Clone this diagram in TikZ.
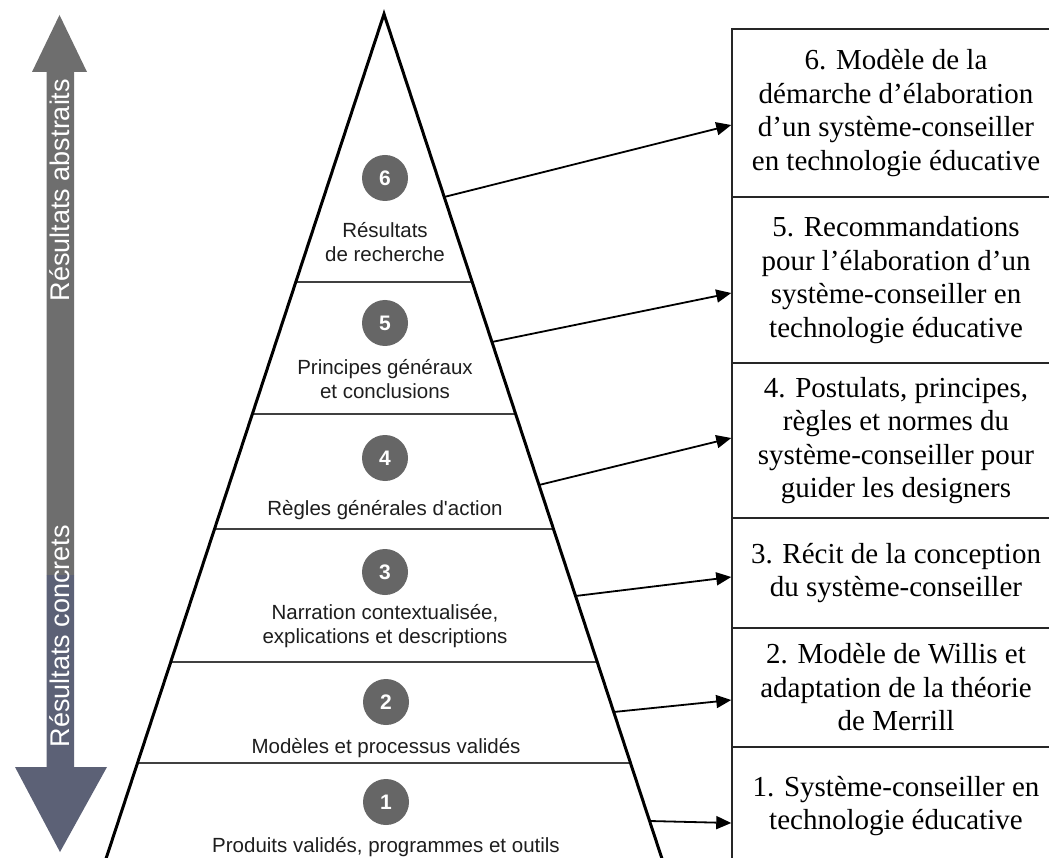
\documentclass[tikz,border=0pt]{standalone}
\usepackage{fontspec}
\setmainfont{Liberation Serif}
\newfontfamily\sansf{Liberation Sans}[Ligatures=TeXOff]
\usetikzlibrary{arrows.meta,calc}
\definecolor{upgray}{RGB}{110,110,110}
\definecolor{downblue}{RGB}{92,97,118}
\definecolor{discgray}{RGB}{102,102,102}
\definecolor{inkgray}{RGB}{30,30,30}

\begin{document}
\begin{tikzpicture}[x=1pt,y=-1pt,
  side/.style={line width=3pt,line join=miter},
  divider/.style={line width=1.3pt,draw=black!75},
  disc/.style={circle,fill=discgray,minimum size=46pt,inner sep=0pt,text=white,
    font=\sansf\bfseries\fontsize{21}{21}\selectfont},
  tierlabel/.style={align=center,text=inkgray,inner sep=0pt,
    font=\sansf\fontsize{20.5}{24}\selectfont},
  outcome/.style={draw=black!85,line width=1.5pt,minimum width=328pt,align=center,
    inner sep=0pt,font=\fontsize{29}{33.5}\selectfont},
  link/.style={line width=1.8pt,-{Triangle[length=15pt,width=13pt]}},
  axislabel/.style={rotate=90,text=white,inner sep=0pt,
    font=\sansf\fontsize{27}{27}\selectfont}
]
\clip (0,0) rectangle (1049,858);
\fill[white] (0,0) rectangle (1049,858);

% vertical axis: abstract (up) and concrete (down)
\fill[upgray] (46.5,575) -- (46.5,72) -- (32,72) -- (59.5,15) -- (87,72) -- (74,72) -- (74,575) -- cycle;
\fill[downblue] (46.5,575) -- (46.5,767) -- (15,767) -- (60,852) -- (107,767) -- (74,767) -- (74,575) -- cycle;
\node[axislabel] (abs) at (60,190) {Résultats abstraits};
\node[axislabel] (conc) at (60,636) {Résultats concrets};

% pyramid
\coordinate (apex) at (384,14);
\coordinate (bl) at (99,880);
\coordinate (br) at (669,880);
\foreach \y in {282,414,529,662,763} {
  \draw[divider] ($(apex)!{(\y-14)/866}!(bl)$) -- ($(apex)!{(\y-14)/866}!(br)$);
}
\draw[side] (bl) -- (apex) -- (br);

% tiers
\node[disc] (d6) at (385,178) {6};
\node[tierlabel] (l6) at (385,242.5) {Résultats\\de recherche};
\node[disc] (d5) at (385,323) {5};
\node[tierlabel] (l5) at (385,379) {Principes généraux\\et conclusions};
\node[disc] (d4) at (385,458) {4};
\node[tierlabel] (l4) at (385,510) {Règles générales d'action};
\node[disc] (d3) at (385,572) {3};
\node[tierlabel] (l3) at (385,626.5) {Narration contextualisée,\\explications et descriptions};
\node[disc] (d2) at (386,702) {2};
\node[tierlabel] (l2) at (386,748) {Modèles et processus validés};
\node[disc] (d1) at (386,802) {1};
\node[tierlabel] (l1) at (386,847) {Produits validés, programmes et outils};

% outcome boxes
\node[outcome,minimum height=168pt] (b6) at (896,113)
  {6. Modèle de la\\démarche d’élaboration\\d’un système-conseiller\\en technologie éducative};
\node[outcome,minimum height=166pt] (b5) at (896,280)
  {5. Recommandations\\pour l’élaboration d’un\\système-conseiller en\\technologie éducative};
\node[outcome,minimum height=155pt] (b4) at (896,440.5)
  {4. Postulats, principes,\\règles et normes du\\système-conseiller pour\\guider les designers};
\node[outcome,minimum height=110pt] (b3) at (896,573)
  {3. Récit de la conception\\du système-conseiller};
\node[outcome,minimum height=119pt] (b2) at (896,687.5)
  {2. Modèle de Willis et\\adaptation de la théorie\\de Merrill};
\node[outcome,minimum height=118pt] (b1) at (896,806)
  {1. Système-conseiller en\\technologie éducative};

% links from the pyramid edge to the boxes
\coordinate (s6) at ($(apex)!{(197-14)/866}!(br)$);
\coordinate (s5) at ($(apex)!{(342-14)/866}!(br)$);
\coordinate (s4) at ($(apex)!{(485-14)/866}!(br)$);
\coordinate (s3) at ($(apex)!{(596-14)/866}!(br)$);
\coordinate (s2) at ($(apex)!{(712-14)/866}!(br)$);
\coordinate (s1) at ($(apex)!{(821-14)/866}!(br)$);
\draw[link] (s6) -- ([yshift=-12pt]b6.west);
\draw[link] (s5) -- ([yshift=-13pt]b5.west);
\draw[link] (s4) -- ([yshift=2.5pt]b4.west);
\draw[link] (s3) -- ([yshift=-4pt]b3.west);
\draw[link] (s2) -- ([yshift=-12.5pt]b2.west);
\draw[link] (s1) -- ([yshift=-17pt]b1.west);
\end{tikzpicture}
\end{document}
